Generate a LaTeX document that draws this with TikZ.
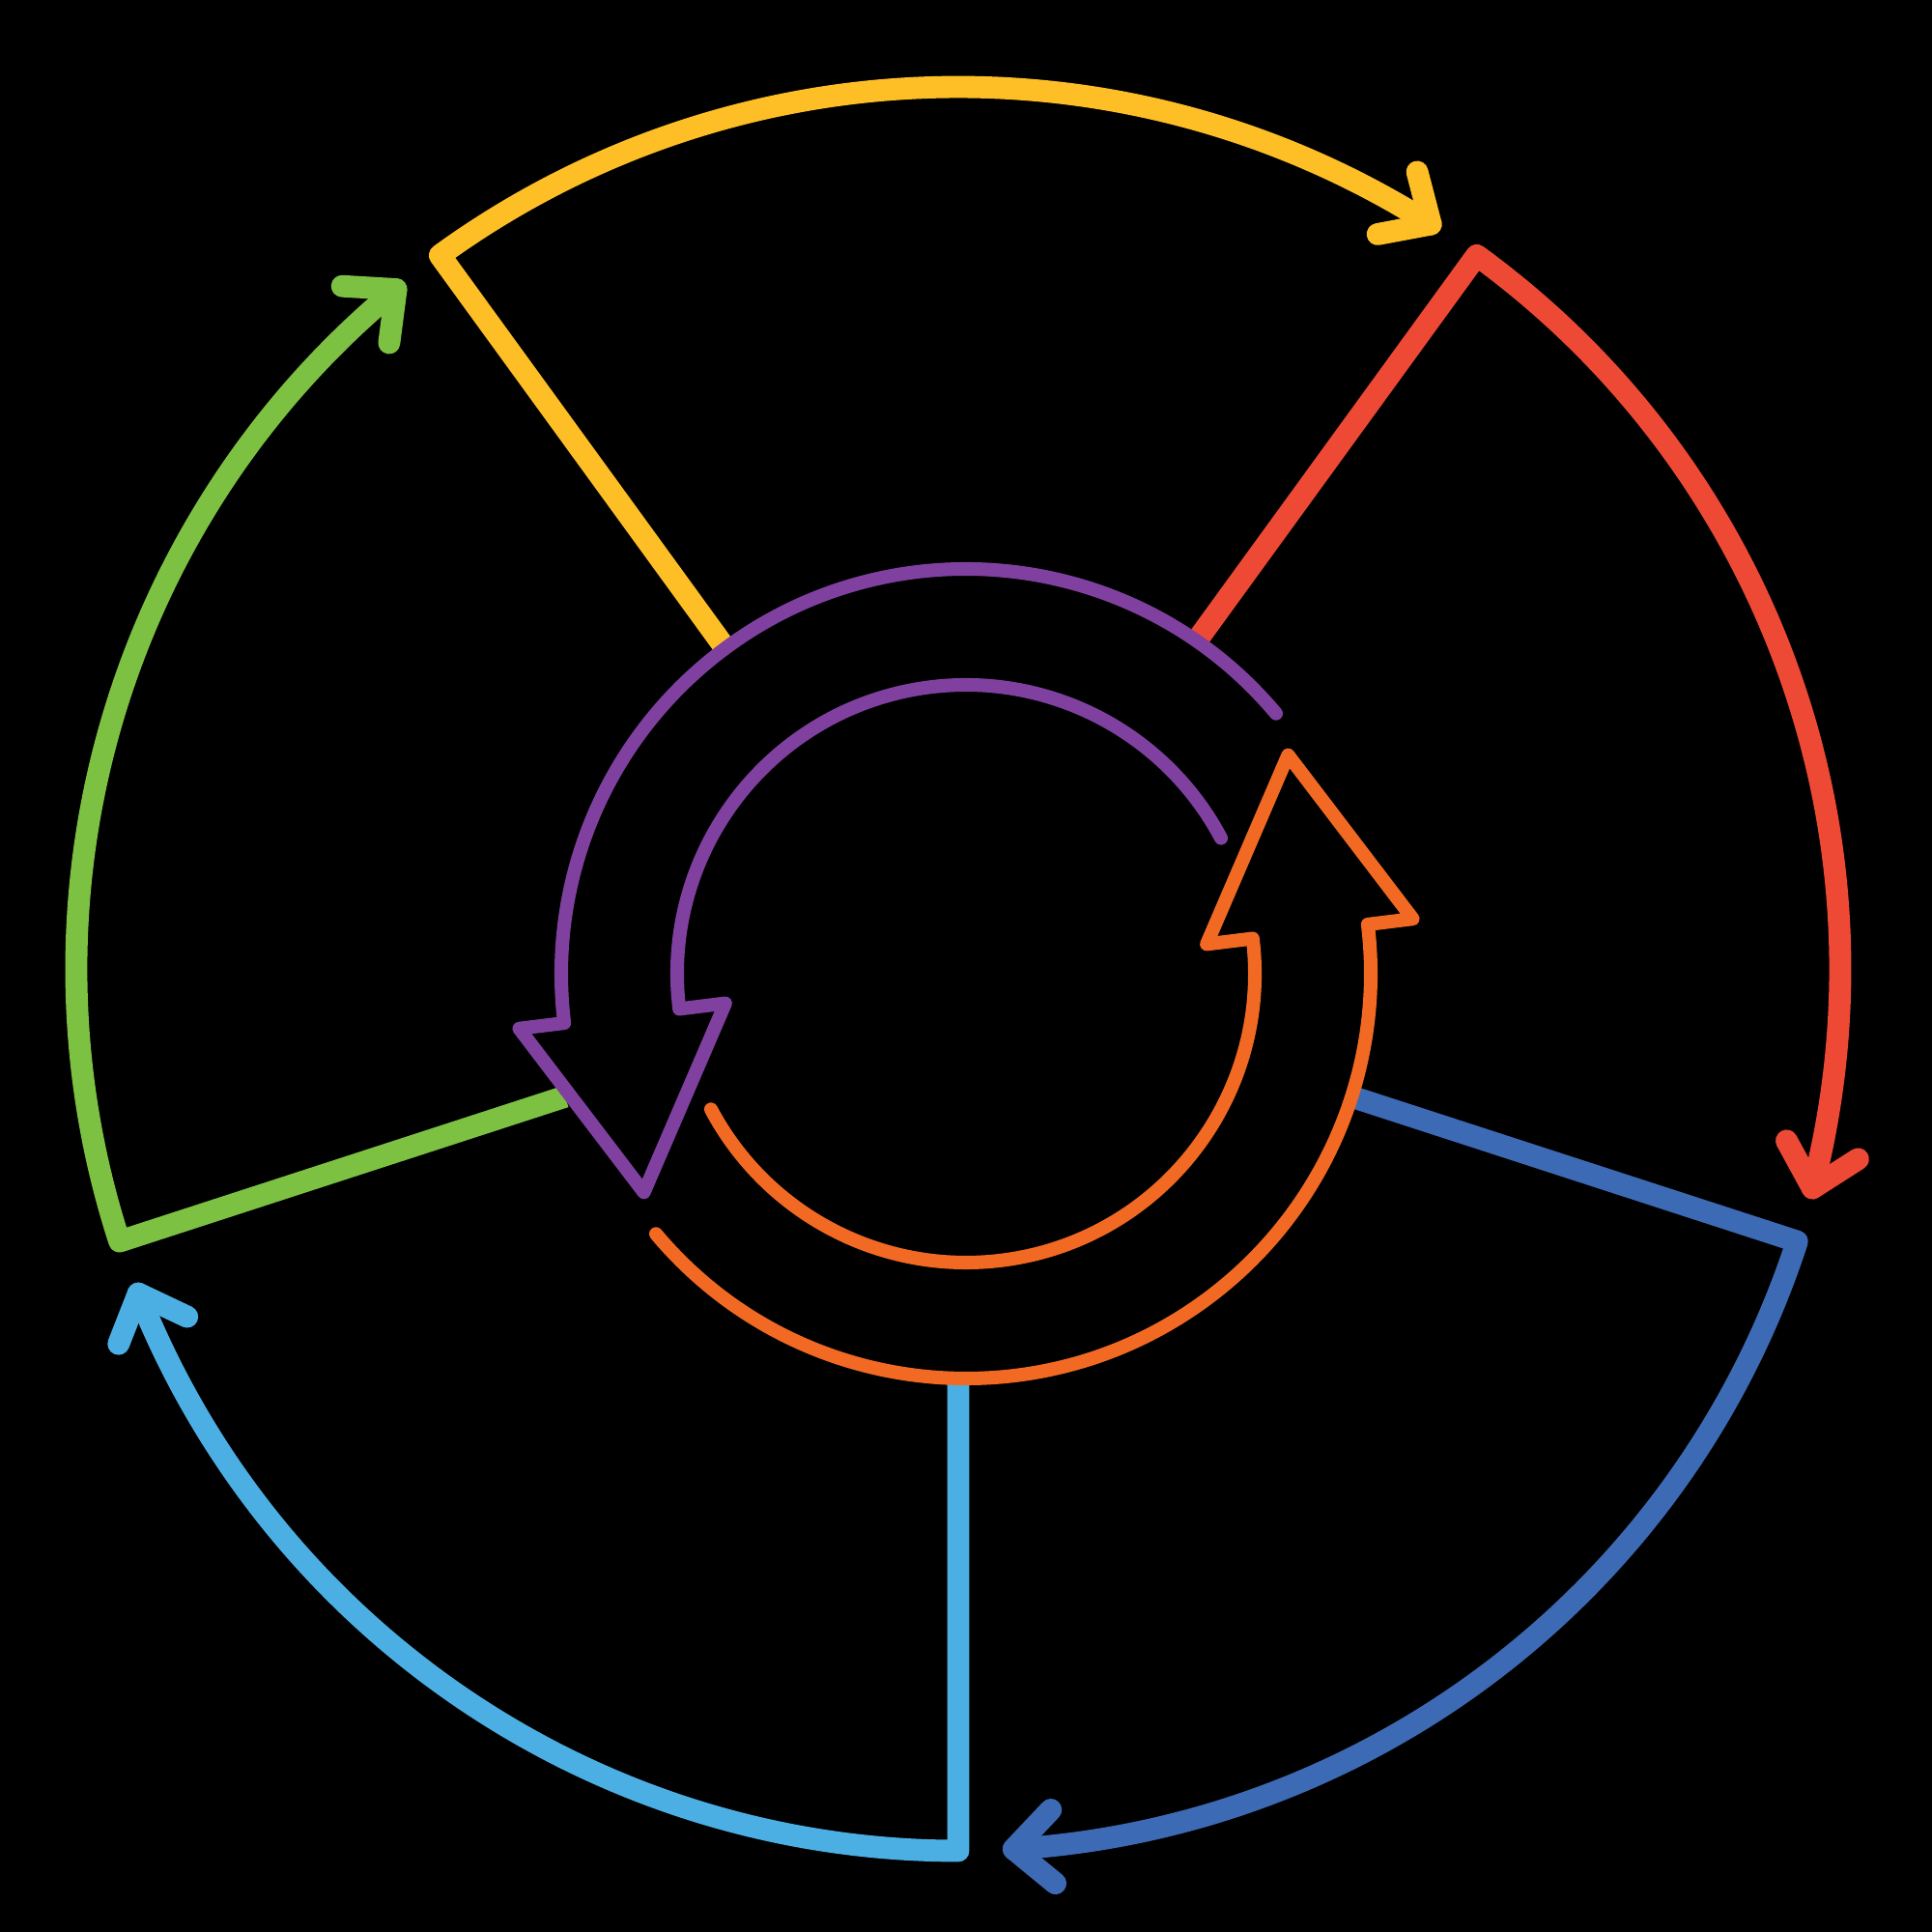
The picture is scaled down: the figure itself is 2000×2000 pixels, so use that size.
\documentclass[tikz,border=0pt]{standalone}
\usetikzlibrary{calc}
\definecolor{cyel}{RGB}{253,190,38}
\definecolor{cred}{RGB}{238,73,52}
\definecolor{cblue}{RGB}{61,106,180}
\definecolor{clblue}{RGB}{76,175,228}
\definecolor{cgreen}{RGB}{125,193,67}
\definecolor{cpurple}{RGB}{128,64,160}
\definecolor{corange}{RGB}{242,105,35}
\newcommand\mysector[3]{%
  \pgfmathsetmacro\endang{#2-68.4}%
  \pgfmathsetmacro\barbA{\endang+90+43}%
  \pgfmathsetmacro\barbB{\endang+90-43}%
  \begin{scope}
  \clip (0,0) -- (2000,0) -- (2000,2000) -- (0,2000) -- cycle
        ($(I)+(0:#3)$) arc[start angle=0, end angle=-360, radius=#3] -- cycle;
  \draw[outerline,#1] ($(O)+(#2:380)$) -- ($(O)+(#2:913)$)
    arc[start angle=#2, end angle=\endang, radius=913] coordinate (tip#2);
  \draw[outerline,#1] ($(tip#2)+(\barbA:56)$) -- (tip#2) -- ($(tip#2)+(\barbB:56)$);
  \end{scope}
}
\begin{document}
\begin{tikzpicture}[x=0.01cm,y=0.01cm,line cap=round,line join=round,
  outerline/.style={line width=6.5pt},
  innerline/.style={line width=4pt}]
\fill[black] (0,0) rectangle (2000,2000);
\useasboundingbox (0,0) rectangle (2000,2000);
\coordinate (O) at (992,997);
\coordinate (I) at (1000,992);
\mysector{cyel}{126}{420}
\mysector{cred}{54}{420}
\mysector{cblue}{-18}{420}
\mysector{clblue}{-90}{420}
\mysector{cgreen}{198}{434}
% orange inner arrow
\coordinate (otip) at ($(I)+(7:358.5)+(97:184)$);
\draw[innerline,corange] ($(I)+(220:419)$) arc[start angle=220, end angle=367, radius=419]
  -- ($(I)+(7:466)$) -- (otip) -- ($(I)+(7:251)$) -- ($(I)+(7:299)$)
  arc[start angle=367, end angle=208, radius=299];
% purple inner arrow
\coordinate (ptip) at ($(I)+(187:358.5)+(277:184)$);
\draw[innerline,cpurple] ($(I)+(40:419)$) arc[start angle=40, end angle=187, radius=419]
  -- ($(I)+(187:466)$) -- (ptip) -- ($(I)+(187:251)$) -- ($(I)+(187:299)$)
  arc[start angle=187, end angle=28, radius=299];
\end{tikzpicture}
\end{document}
